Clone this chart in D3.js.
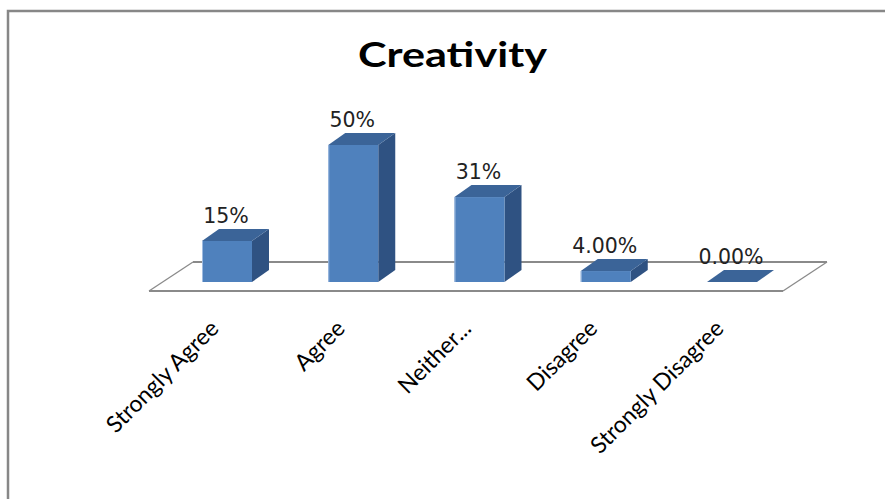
<!DOCTYPE html>
<html>
<head>
<meta charset="utf-8">
<script src="https://cdn.jsdelivr.net/npm/d3@7"></script>
<style>
  html, body { margin: 0; padding: 0; background: #fff; }
  svg { display: block; }
</style>
</head>
<body>
<svg id="chart" width="885" height="499"></svg>
<script>
// ---- data ----
const title = "Creativity";
const categories = ["Strongly Agree", "Agree", "Neither...", "Disagree", "Strongly Disagree"];
const values = [15, 50, 31, 4, 0];
const valueLabels = ["15%", "50%", "31%", "4.00%", "0.00%"];

// ---- layout ----
const svg = d3.select("#chart");

// frame
svg.append("rect")
  .attr("x", 8).attr("y", 11)
  .attr("width", 900).attr("height", 520)
  .attr("fill", "#fff")
  .attr("stroke", "#878787")
  .attr("stroke-width", 2.5);

// title
svg.append("text")
  .attr("x", 452.5).attr("y", 67)
  .attr("text-anchor", "middle")
  .attr("font-family", "Lato, 'Open Sans', sans-serif")
  .attr("font-weight", "bold")
  .attr("font-size", 34)
  .attr("textLength", 189)
  .attr("lengthAdjust", "spacingAndGlyphs")
  .attr("fill", "#000")
  .text(title);

// scales
const x = d3.scalePoint().domain(categories).range([227, 732]);
const y = d3.scaleLinear().domain([0, 50]).range([282, 145]);

const barW = 50;
const depthX = 17, depthY = 12;

// floor (parallelogram)
const floorFrontY = 291, floorBackY = 262;
const floorL = x(categories[0]) - 78, floorR = x(categories[categories.length - 1]) + 51;
const floorDX = 44;
const floor = svg.append("g").attr("fill", "none").attr("stroke", "#8a8a8a");
floor.append("line").attr("x1", floorL).attr("y1", floorFrontY).attr("x2", floorR).attr("y2", floorFrontY).attr("stroke-width", 2.2);
floor.append("line").attr("x1", floorL + floorDX).attr("y1", floorBackY).attr("x2", floorR + floorDX).attr("y2", floorBackY).attr("stroke-width", 1.8);
floor.append("line").attr("x1", floorL).attr("y1", floorFrontY).attr("x2", floorL + floorDX).attr("y2", floorBackY).attr("stroke-width", 1.3);
floor.append("line").attr("x1", floorR).attr("y1", floorFrontY).attr("x2", floorR + floorDX).attr("y2", floorBackY).attr("stroke-width", 1.3);

// bars
const bars = svg.append("g").selectAll("g").data(categories).join("g");
bars.each(function(c, i) {
  const g = d3.select(this);
  const x0 = x(c) - barW / 2, x1 = x(c) + barW / 2;
  const yb = y(0), yt = y(values[i]);
  g.append("path")
    .attr("d", `M${x1},${yt} L${x1 + depthX},${yt - depthY} L${x1 + depthX},${yb - depthY} L${x1},${yb} Z`)
    .attr("fill", "#2f5282");
  if (yb - yt > 0.5) {
    g.append("rect")
      .attr("x", x0).attr("y", yt)
      .attr("width", barW).attr("height", yb - yt)
      .attr("fill", "#4f81bd");
    g.append("line")
      .attr("x1", x0 + 0.5).attr("x2", x0 + 0.5).attr("y1", yt).attr("y2", yb)
      .attr("stroke", "#9fbbe0").attr("stroke-width", 1);
  }
  g.append("path")
    .attr("d", `M${x0},${yt} L${x0 + depthX},${yt - depthY} L${x1 + depthX},${yt - depthY} L${x1},${yt} Z`)
    .attr("fill", "#3b6498");
});

// value labels
svg.append("g").selectAll("text").data(categories).join("text")
  .attr("x", c => x(c) - 1)
  .attr("y", (c, i) => y(values[i]) - depthY - 6)
  .attr("text-anchor", "middle")
  .attr("font-family", "'DejaVu Sans', Verdana, sans-serif")
  .attr("font-size", 20.5)
  .attr("fill", "#222")
  .text((c, i) => valueLabels[i]);

// category labels
svg.append("g").selectAll("text").data(categories).join("text")
  .attr("transform", c => `translate(${x(c) - 7},${330}) rotate(-45)`)
  .attr("text-anchor", "end")
  .attr("font-family", "Lato, 'Open Sans', sans-serif")
  .attr("font-size", 23)
  .attr("fill", "#000")
  .text(c => c);
</script>
</body>
</html>
